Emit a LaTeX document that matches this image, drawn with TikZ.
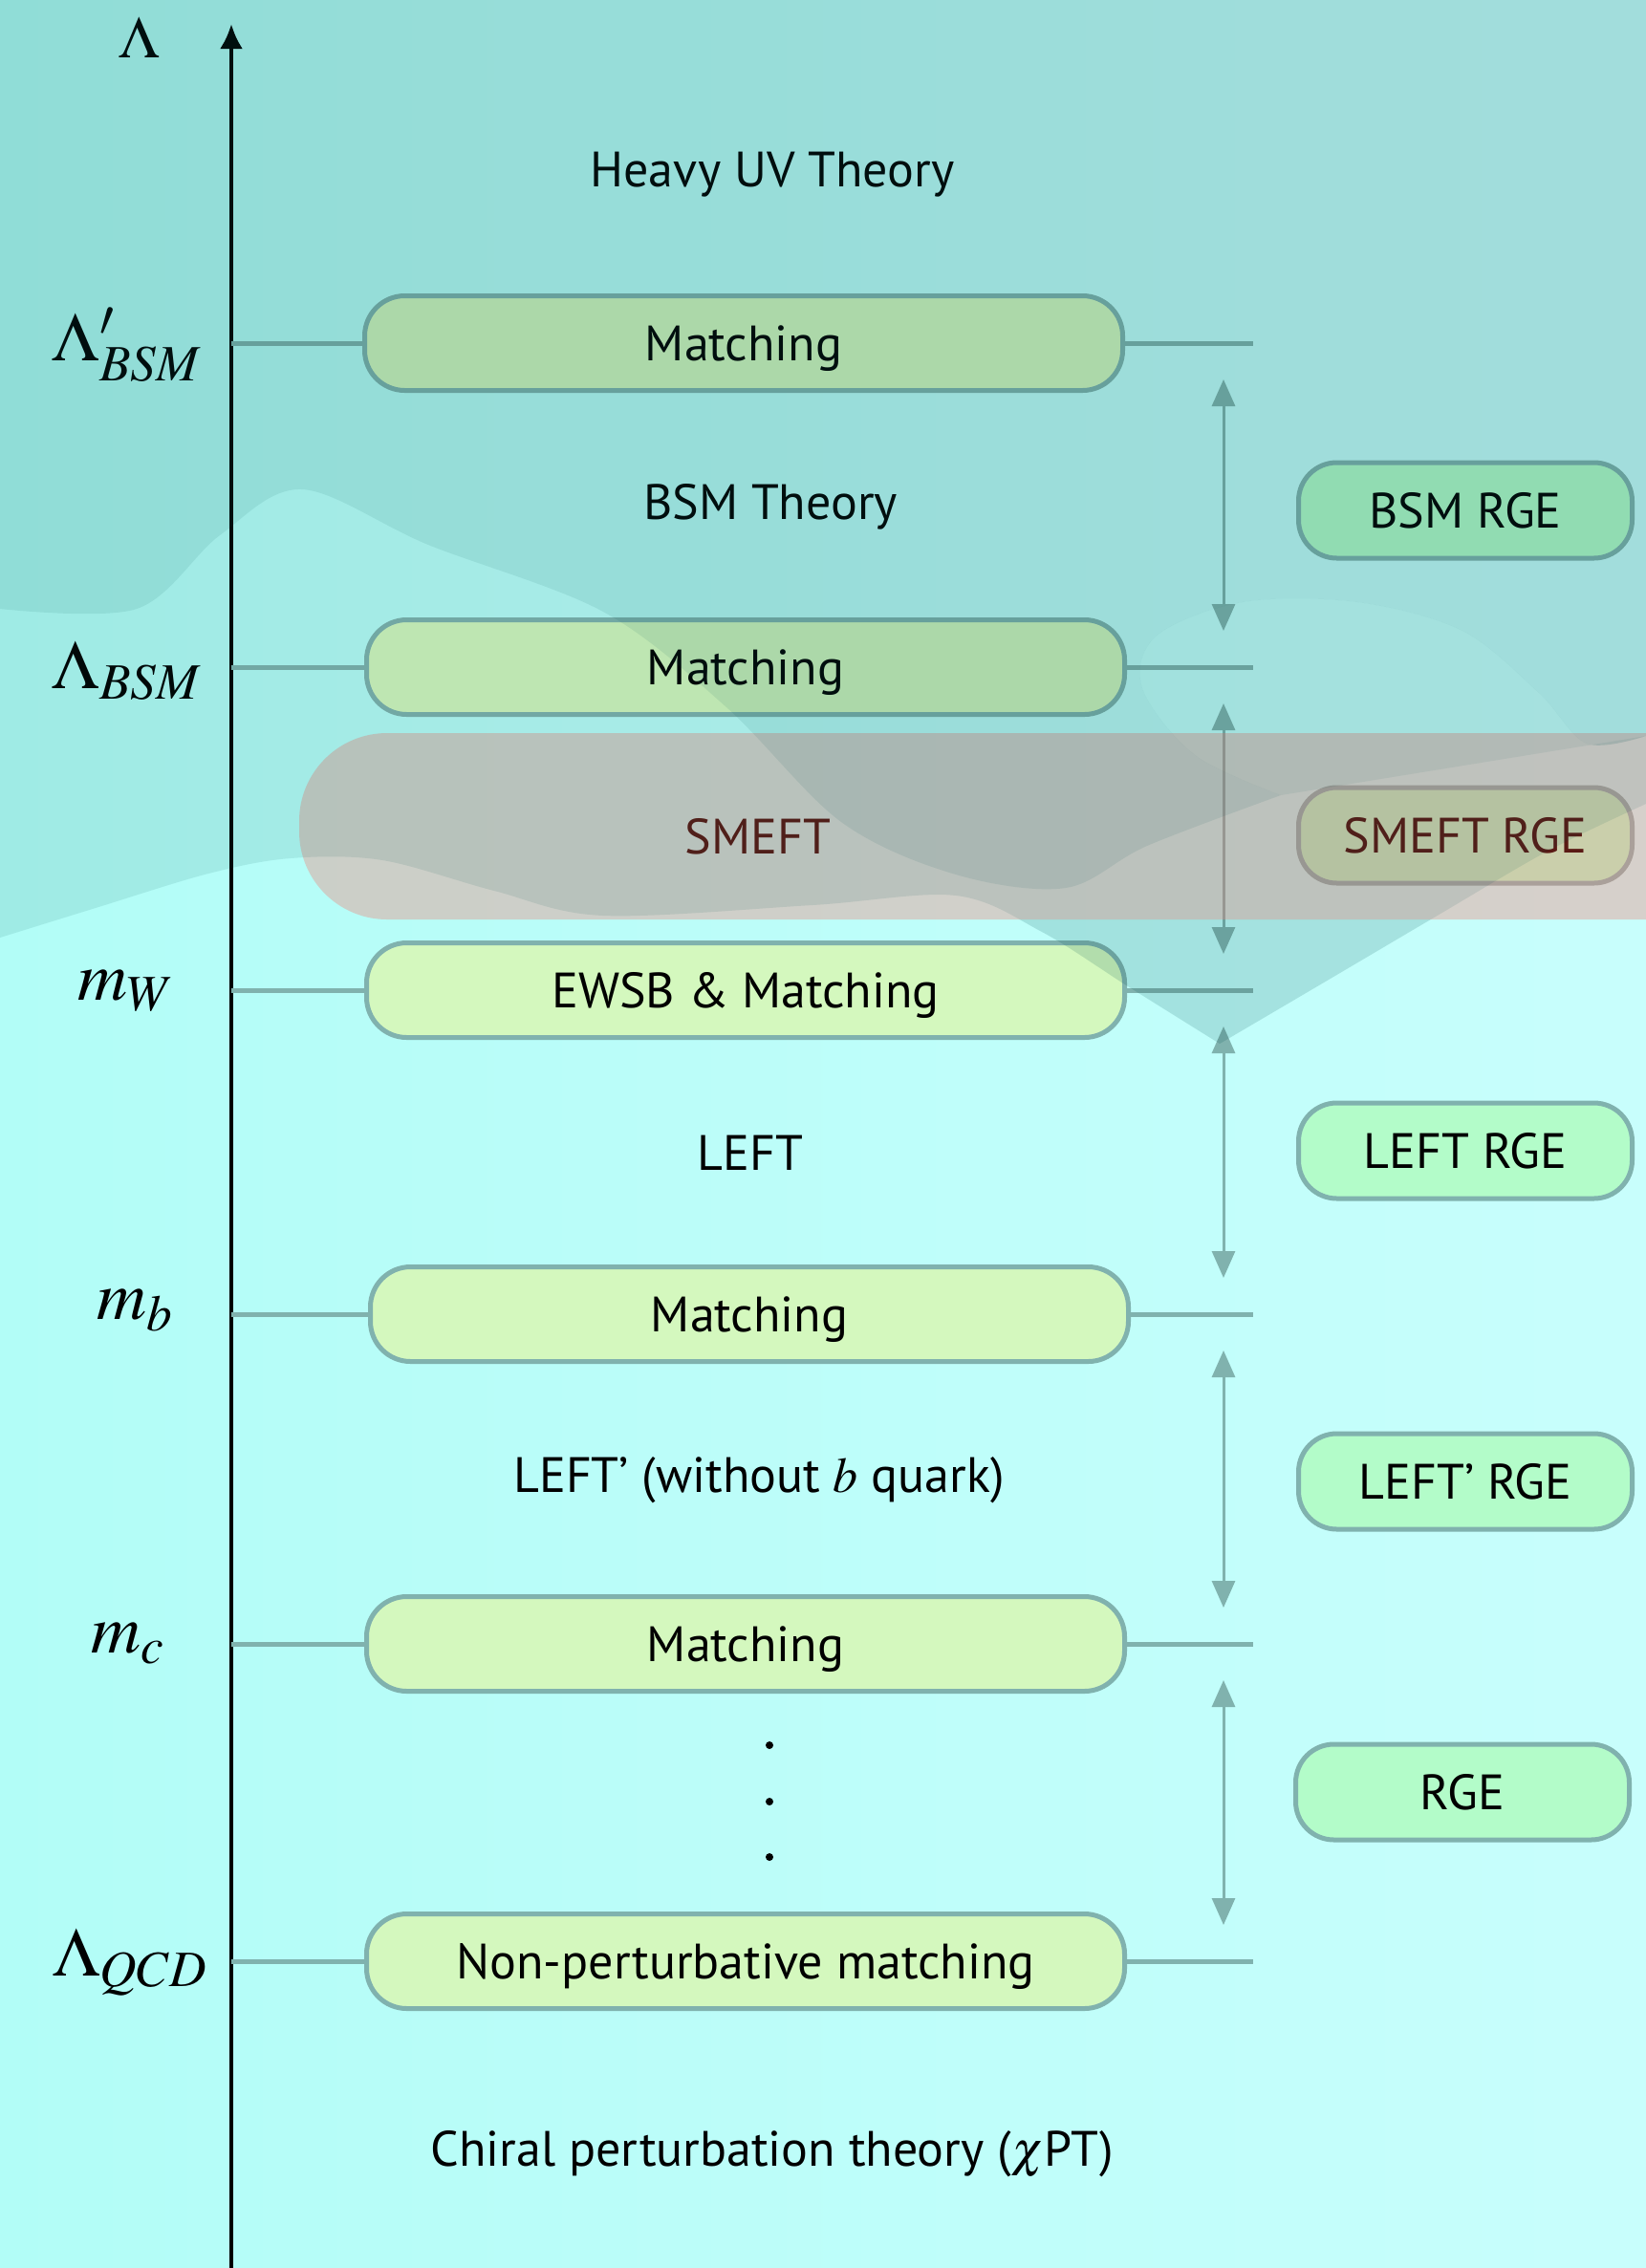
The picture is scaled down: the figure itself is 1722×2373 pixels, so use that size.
\documentclass[tikz,border=0pt]{standalone}
\usepackage{mathptmx}
\usepackage{fontspec}
\setmainfont{PT Sans}
\usetikzlibrary{arrows.meta}
\definecolor{bgA}{RGB}{178,253,247}
\definecolor{bgB}{RGB}{200,254,252}
\definecolor{ov}{RGB}{0,80,80}
\definecolor{boxfill}{RGB}{212,248,190}
\definecolor{rgefill}{RGB}{179,252,201}
\definecolor{edge}{RGB}{128,178,174}
\definecolor{bandc}{RGB}{240,130,120}
\definecolor{bandbox}{RGB}{202,207,171}
\definecolor{bandedge}{RGB}{170,160,154}
\definecolor{smeftred}{RGB}{90,26,20}
\begin{document}
\begin{tikzpicture}[x=0.5pt,y=-0.5pt,
  every node/.style={font=\fontsize{26}{30}\selectfont, inner sep=0pt, text height=18.2pt, text depth=0pt},
  matchbox/.style={draw=edge, line width=2.5pt, fill=boxfill, rounded corners=21pt, minimum width=396.5pt, minimum height=49.5pt},
  rgebox/.style={draw=edge, line width=2.5pt, fill=rgefill, rounded corners=20pt, minimum width=174.5pt, minimum height=50pt},
  scalelab/.style={font=\fontsize{36}{40}\selectfont, text height=, text depth=},
  toplab/.style={font=\fontsize{31}{36}\selectfont, text height=, text depth=},
  conn/.style={draw=edge, line width=2.5pt},
  rgearrow/.style={draw=edge, line width=1.5pt, {Triangle[width=12pt,length=14pt]}-{Triangle[width=12pt,length=14pt]}, shorten <=19pt, shorten >=19pt},
  dotmark/.style={circle, fill=black, minimum size=4pt, inner sep=0pt, text height=, text depth=}
]
\useasboundingbox (0,0) rectangle (1722,2373);
% background
\shade[left color=bgA, right color=bgB] (0,0) rectangle (1722,2373);

% axis
\coordinate (axbot) at (242,2380);
\coordinate (axtop) at (242,25);
\draw[line width=2.25pt, -{Latex[length=13pt,width=12pt]}] (axbot) -- (axtop);

% scale labels
\node[toplab] (s0) at (146,39) {$\Lambda$};
\node[scalelab] (s1) at (133,361) {$\Lambda'_{BSM}$};
\node[scalelab] (s2) at (133,702) {$\Lambda_{BSM}$};
\node[scalelab] (s3) at (132,1037) {$m_W$};
\node[scalelab] (s4) at (141,1371) {$m_b$};
\node[scalelab] (s5) at (134,1720) {$m_c$};
\node[scalelab] (s6) at (136,2053) {$\Lambda_{QCD}$};

% theory labels
\node (t0) at (808,177) {Heavy UV Theory};
\node (t1) at (806,525) {BSM Theory};
\node (t3) at (785,1206) {LEFT};
\node (t4) at (794,1543) {LEFT’ (without $b$ quark)};
\node (t5) at (808,2248) {Chiral perturbation theory ($\chi$PT)};
\node[dotmark] (d1) at (805,1826) {};
\node[dotmark] (d2) at (805,1885) {};
\node[dotmark] (d3) at (805,1943) {};

% matching boxes
\node[matchbox] (m1) at (778,359) {Matching};
\node[matchbox] (m2) at (780,698) {Matching};
\node[matchbox] (m3) at (780,1036) {EWSB \& Matching};
\node[matchbox] (m4) at (784,1375) {Matching};
\node[matchbox] (m5) at (780,1720) {Matching};
\node[matchbox] (m6) at (780,2052) {Non-perturbative matching};

% connector coordinates
\foreach \i/\y in {1/359,2/698,3/1036,4/1375,5/1720,6/2052}{
  \coordinate (l\i) at (242,\y);
  \coordinate (r\i) at (1311,\y);
  \coordinate (a\i) at (1280,\y);
}
\foreach \i in {1,...,6}{
  \draw[conn] (l\i) -- (m\i.west);
  \draw[conn] (m\i.east) -- (r\i);
}
\draw[rgearrow] (a1) -- (a2);
\draw[rgearrow] (a2) -- (a3);
\draw[rgearrow] (a3) -- (a4);
\draw[rgearrow] (a4) -- (a5);
\draw[rgearrow] (a5) -- (a6);

% RGE boxes
\node[rgebox] (g1) at (1533,534) {BSM RGE};
\node[rgebox] (g3) at (1533,1204) {LEFT RGE};
\node[rgebox] (g4) at (1533,1550) {LEFT’ RGE};
\node[rgebox] (g5) at (1530,1875) {RGE};

% SMEFT band
\fill[bandc, opacity=0.37, rounded corners=46pt] (313,767) rectangle (1820,962);
\node[text=smeftred] (t2) at (793,875) {SMEFT};
\node[rgebox, fill=bandbox, draw=bandedge, text=smeftred] (g2) at (1533,874) {SMEFT RGE};

% translucent wave overlays
\def\mpath{(0,0) -- (1722,0) -- (1722,841)
  -- plot[smooth, tension=0.55] coordinates {(1722,841) (1620,890) (1507,956) (1390,1025) (1276,1092)}
  -- plot[smooth, tension=0.55] coordinates {(1276,1092) (1180,1032) (1090,975) (1000,937) (850,947) (631,958) (517,932) (400,900) (304,898) (218,914) (100,950) (0,981)}
  -- cycle}
\fill[ov, opacity=0.10] \mpath;
\begin{scope}
  \clip (1000,962) rectangle (1600,1110);
  \fill[ov, opacity=0.06] \mpath;
\end{scope}
\fill[ov, opacity=0.09] (0,0) -- (1722,0) -- (1722,770)
  -- plot[smooth, tension=0.55] coordinates {(1722,770) (1660,778) (1610,725) (1530,660) (1420,630) (1300,630) (1210,665) (1195,720) (1250,790) (1340,832)}
  -- plot[smooth, tension=0.55] coordinates {(1340,832) (1200,885) (1115,929) (1000,915) (880,860) (760,740) (631,640) (448,570) (316,512) (230,560) (143,637) (0,637)}
  -- cycle;
\fill[ov, opacity=0.065] plot[smooth, tension=0.55] coordinates {(1722,770) (1660,778) (1610,725) (1530,660) (1420,630) (1300,630) (1210,665) (1195,720) (1250,790) (1340,832)} -- cycle;
\end{tikzpicture}
\end{document}
